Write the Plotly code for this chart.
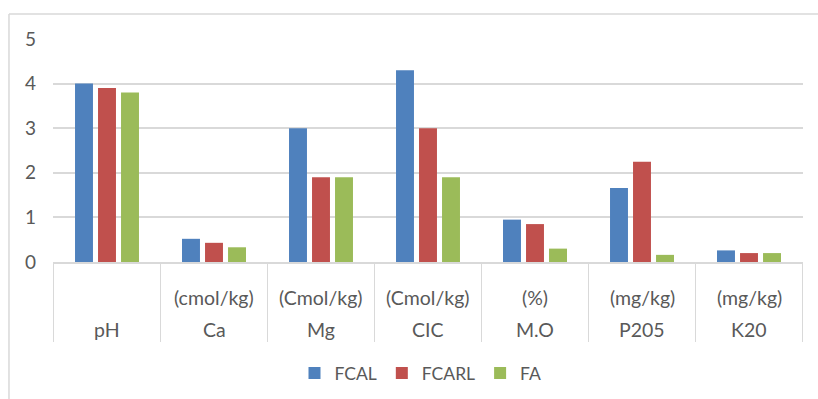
import plotly.graph_objects as go

names = ["pH", "Ca", "Mg", "CIC", "M.O", "P205", "K20"]
units = ["", "(cmol/kg)", "(Cmol/kg)", "(Cmol/kg)", "(%)", "(mg/kg)", "(mg/kg)"]
series_names = ["FCAL", "FCARL", "FA"]
fcal = [4.0, 0.52, 3.0, 4.3, 0.95, 1.66, 0.26]
fcarl = [3.9, 0.43, 1.9, 3.0, 0.85, 2.25, 0.2]
fa = [3.8, 0.33, 1.9, 1.9, 0.30, 0.16, 0.2]
colors = ["#4F81BD", "#C0504D", "#9BBB59"]

FONT = "Lato"
TXT = "#595959"
GRID = "#D9D9D9"
W, H = 818, 399
M_T, M_B = 39, 137
H_PLOT = H - M_T - M_B


def py(pix):
    """convert a pixel row of the page to paper y"""
    return (H - M_B - pix) / H_PLOT


fig = go.Figure()
for nm, vals, col in zip(series_names, [fcal, fcarl, fa], colors):
    fig.add_trace(go.Bar(x=names, y=vals, name=nm, marker_color=col,
                         marker_line_width=0))

annotations = []
for nm, un in zip(names, units):
    if un:
        annotations.append(dict(x=nm, xref="x", y=py(297), yref="paper", text=un,
                                showarrow=False, yanchor="middle",
                                font=dict(family=FONT, size=19.5, color=TXT)))
    annotations.append(dict(x=nm, xref="x", y=py(329), yref="paper", text=nm,
                            showarrow=False, yanchor="middle",
                            font=dict(family=FONT, size=19.5, color=TXT)))

shapes = []
for i in range(len(names) + 1):
    shapes.append(dict(type="line", xref="x", yref="paper", x0=i - 0.5, x1=i - 0.5,
                       y0=0, y1=py(342), line=dict(color=GRID, width=1)))
# outer chart frame (top and left edges visible)
shapes.append(dict(type="line", xref="paper", yref="paper", x0=-0.0587, x1=1.03,
                   y0=py(14), y1=py(14), line=dict(color=GRID, width=1.5)))
shapes.append(dict(type="line", xref="paper", yref="paper", x0=-0.0587, x1=-0.0587,
                   y0=py(14), y1=py(420), line=dict(color=GRID, width=1.5)))

fig.update_layout(
    width=W, height=H,
    margin=dict(l=53, r=15, t=M_T, b=M_B, autoexpand=False),
    paper_bgcolor="white", plot_bgcolor="white",
    barmode="group", bargap=0.355, bargroupgap=0.22,
    font=dict(family=FONT, size=18, color=TXT),
    showlegend=True,
    legend=dict(orientation="h", x=0.49, xanchor="center",
                yref="container", y=(H - 373) / H, yanchor="middle",
                font=dict(family=FONT, size=17.5, color=TXT), itemwidth=30),
    xaxis=dict(type="category", showline=True, linecolor=GRID, linewidth=1.5,
               showticklabels=False, ticks="", showgrid=False, zeroline=False,
               automargin=False),
    yaxis=dict(range=[0, 5], dtick=1, showgrid=True, gridcolor=GRID, gridwidth=1.5,
               zeroline=False, showline=False, ticks="", ticklabelstandoff=16,
               automargin=False,
               tickfont=dict(family=FONT, size=19, color=TXT)),
    shapes=shapes,
    annotations=annotations,
)

fig.write_html("out.html")
